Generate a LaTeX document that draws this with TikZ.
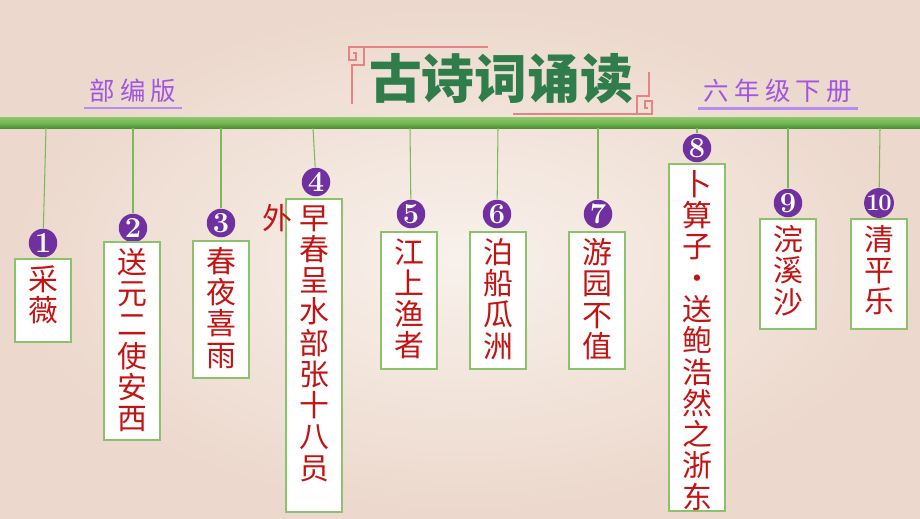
\documentclass[tikz,border=0pt]{standalone}
\usepackage{fontspec}
\newfontfamily\cjk{Noto Sans CJK SC}
\usetikzlibrary{positioning}
\definecolor{bglight}{HTML}{F8F1EB}
\definecolor{bgdark}{HTML}{ECD8CC}
\definecolor{rodlight}{HTML}{8DC86A}
\definecolor{roddark}{HTML}{48922F}
\definecolor{boxgreen}{HTML}{8CC26C}
\definecolor{stringgreen}{HTML}{7DB85A}
\definecolor{poemred}{HTML}{C41313}
\definecolor{dotpurple}{HTML}{7030A0}
\definecolor{titlegreen}{HTML}{2E7D4B}
\definecolor{fretred}{HTML}{E98282}
\definecolor{labelpurple}{HTML}{A056E2}
\definecolor{linepurple}{HTML}{B98AF0}

\begin{document}
\begin{tikzpicture}[
    x=0.02cm, y=-0.02cm,
    poembox/.style={draw=boxgreen, line width=0.9pt, fill=white, minimum width=1.12cm, inner sep=0pt, anchor=north},
    poem/.style={anchor=north, align=center, inner sep=0pt, text=poemred, font=\cjk\fontsize{17}{17.8}\selectfont},
    numdot/.style={circle, fill=dotpurple, minimum size=0.57cm, inner sep=0pt, text=white, font=\bfseries\fontsize{16.5}{16.5}\selectfont},
    hang/.style={draw=stringgreen, line width=0.6pt},
    fret/.style={draw=fretred, line width=0.9pt},
    toplabel/.style={inner sep=0pt, text=labelpurple, font=\cjk\fontsize{14.5}{14.5}\selectfont},
    underl/.style={draw=linepurple, line width=1.2pt}
  ]
    % Background
    \useasboundingbox (0,0) rectangle (920,518);
    \shade[inner color=bglight, outer color=bgdark] (0,0) rectangle (920,518);

    % Title with frame
    \draw[fret] (488,47) -- (349,47) -- (349,60) -- (356,60) -- (356,53) -- (353,53);
    \draw[fret] (364,47) -- (364,65) -- (352,65) -- (352,104);
    \draw[fret] (513,114) -- (652,114) -- (652,101) -- (645,101) -- (645,108) -- (648,108);
    \draw[fret] (637,114) -- (637,96) -- (649,96) -- (649,72);
    \node[text=titlegreen, inner sep=0pt, font=\cjk\bfseries\fontsize{30}{30}\selectfont] (title) at (501,79) {古诗词诵读};

    % Top labels
    \node[toplabel] (edition) at (133,91) {部\hspace{3pt}编\hspace{3pt}版};
    \node[toplabel] (grade) at (778,91) {六\hspace{3pt}年\hspace{3pt}级\hspace{3pt}下\hspace{3pt}册};
    \draw[underl] ([xshift=-3pt,yshift=-2.5pt]edition.south west) -- ([xshift=3pt,yshift=-2.5pt]edition.south east);
    \draw[underl] ([xshift=-3pt,yshift=-3pt]grade.south west) -- ([xshift=3pt,yshift=-3pt]grade.south east);

    % Rod
    \node[minimum width=18.4cm, minimum height=0.22cm, inner sep=0pt, top color=rodlight, bottom color=roddark, middle color=rodlight!70!roddark] (rod) at (460,122.5) {};

    % Hanging points
    \coordinate (s1) at (46,128);
    \coordinate (s2) at (133,128);
    \coordinate (s3) at (221,128);
    \coordinate (s4) at (313,128);
    \coordinate (s5) at (410,128);
    \coordinate (s6) at (498,128);
    \coordinate (s7) at (598,128);
    \coordinate (s8) at (697,128);
    \coordinate (s9) at (788,128);
    \coordinate (s10) at (880,128);

    % Number dots
    \node[numdot] (n1) at (43,243) {1};
    \node[numdot] (n2) at (133,228) {2};
    \node[numdot] (n3) at (221,223) {3};
    \node[numdot] (n4) at (316,182) {4};
    \node[numdot] (n5) at (411,214) {5};
    \node[numdot] (n6) at (497,214) {6};
    \node[numdot] (n7) at (598,214) {7};
    \node[numdot] (n8) at (697,148) {8};
    \node[numdot] (n9) at (788,203) {9};
    \node[numdot, font=\bfseries\fontsize{13.5}{13.5}\selectfont] (n10) at (879,203) {1\kern-0.8pt0};

    % Strings
    \draw[hang] (s1) -- (n1);
    \draw[hang] (s2) -- (n2);
    \draw[hang] (s3) -- (n3);
    \draw[hang] (s4) -- (n4);
    \draw[hang] (s5) -- (n5);
    \draw[hang] (s6) -- (n6);
    \draw[hang] (s7) -- (n7);
    \draw[hang] (s8) -- (n8);
    \draw[hang] (s9) -- (n9);
    \draw[hang] (s10) -- (n10);

    % Poem boxes
    \node[poembox, minimum height=1.66cm] (b1) at (43,258) {};
    \node[poembox, minimum height=3.96cm] (b2) at (132,241) {};
    \node[poembox, minimum height=2.74cm] (b3) at (221,240) {};
    \node[poembox, minimum height=6.26cm] (b4) at (314,198) {};
    \node[poembox, minimum height=2.74cm] (b5) at (409,231) {};
    \node[poembox, minimum height=2.74cm] (b6) at (498,231) {};
    \node[poembox, minimum height=2.74cm] (b7) at (597,231) {};
    \node[poembox, minimum height=6.94cm] (b8) at (697,163) {};
    \node[poembox, minimum height=2.2cm] (b9) at (788,218) {};
    \node[poembox, minimum height=2.2cm] (b10) at (879,218) {};

    % Poem titles
    \node[poem] (p1) at ([yshift=-0.14cm]b1.north) {采\\薇};
    \node[poem] (p2) at ([yshift=-0.14cm]b2.north) {送\\元\\二\\使\\安\\西};
    \node[poem] (p3) at ([yshift=-0.14cm]b3.north) {春\\夜\\喜\\雨};
    \node[poem] (p4) at ([yshift=-0.14cm]b4.north) {早\\春\\呈\\水\\部\\张\\十\\八\\员};
    \node[poem] (p5) at ([yshift=-0.14cm]b5.north) {江\\上\\渔\\者};
    \node[poem] (p6) at ([yshift=-0.14cm]b6.north) {泊\\船\\瓜\\洲};
    \node[poem] (p7) at ([yshift=-0.14cm]b7.north) {游\\园\\不\\值};
    \node[poem] (p8) at ([yshift=-0.14cm]b8.north) {卜\\算\\子\\•\\送\\鲍\\浩\\然\\之\\浙\\东};
    \node[poem] (p9) at ([yshift=-0.14cm]b9.north) {浣\\溪\\沙};
    \node[poem] (p10) at ([yshift=-0.14cm]b10.north) {清\\平\\乐};
    \node[poem, anchor=center] (extra) at (277,218) {外};
  \end{tikzpicture}
\end{document}
